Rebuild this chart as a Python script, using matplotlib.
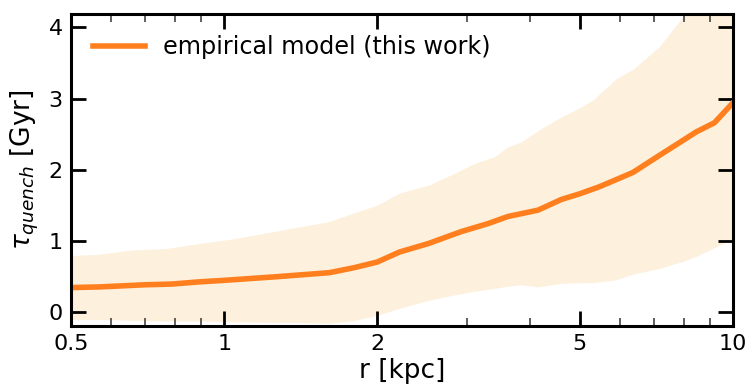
import numpy as np
import matplotlib
matplotlib.use("Agg")
import matplotlib.pyplot as plt
from matplotlib.ticker import FixedLocator, NullFormatter

# median quenching timescale vs. galactocentric radius
r_line = [0.50, 0.57, 0.70, 0.79, 0.89, 0.99, 1.25, 1.61, 1.80, 2.00, 2.21,
          2.52, 2.93, 3.30, 3.61, 4.14, 4.60, 5.00, 5.47, 5.99, 6.36, 7.17,
          8.47, 9.20, 10.0]
tau_med = [0.34, 0.35, 0.38, 0.39, 0.42, 0.44, 0.49, 0.55, 0.62, 0.70, 0.84,
           0.96, 1.13, 1.24, 1.34, 1.43, 1.58, 1.66, 1.76, 1.88, 1.96, 2.20,
           2.53, 2.66, 2.94]

# scatter envelope
r_band = [0.50, 0.57, 0.66, 0.77, 0.89, 1.03, 1.30, 1.61, 1.78, 2.00, 2.21,
          2.52, 2.84, 3.11, 3.40, 3.61, 3.84, 4.14, 4.60, 5.00, 5.31, 5.90,
          6.36, 7.17, 7.97, 8.40, 9.13, 10.0]
tau_hi = [0.79, 0.81, 0.87, 0.89, 0.96, 1.02, 1.15, 1.27, 1.38, 1.50, 1.67,
          1.78, 1.95, 2.09, 2.18, 2.32, 2.39, 2.55, 2.74, 2.87, 2.98, 3.28,
          3.41, 3.73, 4.15, 4.35, 4.60, 4.85]
tau_lo = [-0.11, -0.11, -0.12, -0.13, -0.13, -0.14, -0.15, -0.16, -0.13,
          -0.05, 0.05, 0.16, 0.24, 0.29, 0.33, 0.36, 0.38, 0.35, 0.40, 0.41,
          0.41, 0.45, 0.53, 0.61, 0.71, 0.77, 0.89, 1.03]

xticks = [0.5, 1, 2, 5, 10]
xticklabels = ["0.5", "1", "2", "5", "10"]
xminor = [0.6, 0.7, 0.8, 0.9, 3, 4, 6, 7, 8, 9]

fig = plt.figure(figsize=(7.53, 3.92), dpi=100)
ax = fig.add_axes([0.0943, 0.1684, 0.879, 0.796])

ax.fill_between(r_band, tau_lo, tau_hi, color="#fdf0dc", lw=0)
ax.plot(r_line, tau_med, color="#ff7f1e", lw=4, label="empirical model (this work)")

ax.set_xscale("log")
ax.set_xlim(0.5, 10)
ax.set_ylim(-0.2, 4.19)
ax.xaxis.set_major_locator(FixedLocator(xticks))
ax.set_xticklabels(xticklabels)
ax.xaxis.set_minor_locator(FixedLocator(xminor))
ax.xaxis.set_minor_formatter(NullFormatter())
ax.set_yticks([0, 1, 2, 3, 4])

for s in ax.spines.values():
    s.set_linewidth(2.2)
ax.tick_params(which="major", direction="in", length=11, width=2,
               top=True, right=True, labelsize=16, pad=6)
ax.tick_params(which="minor", direction="in", length=5.5, width=1.2,
               top=True, right=True, color="#444444")

ax.set_xlabel("r [kpc]", fontsize=19, labelpad=3)
ax.set_ylabel(r"$\tau_{quench}$ [Gyr]", fontsize=19, labelpad=5)

ax.legend(loc="upper left", frameon=False, fontsize=17.2, handlelength=2.2,
          handletextpad=0.75, borderaxespad=0.5)

fig.savefig("out.png", dpi=100)
